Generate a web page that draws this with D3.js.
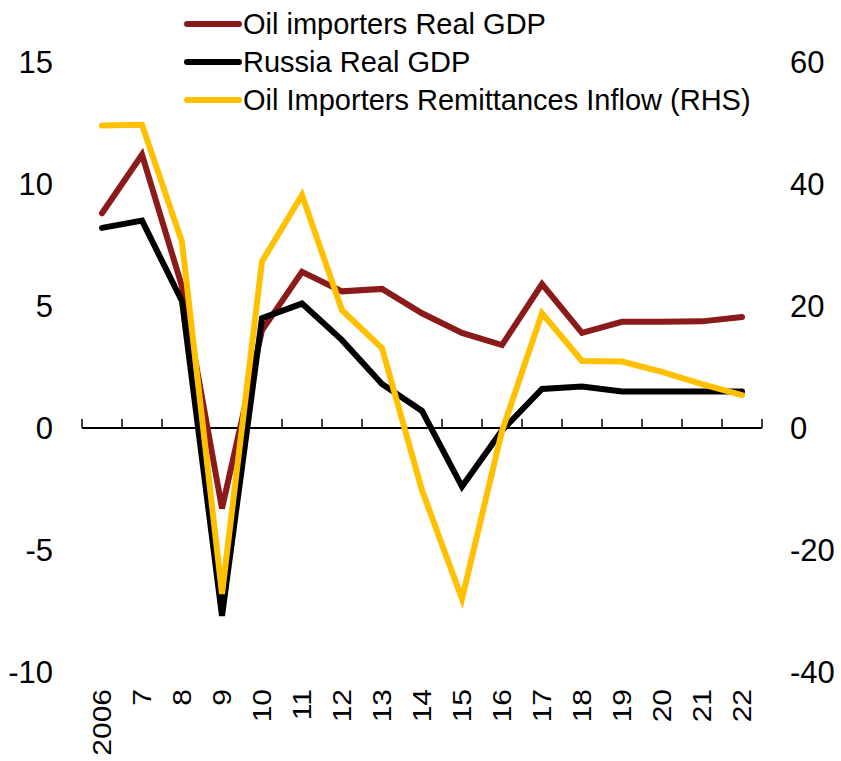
<!DOCTYPE html>
<html><head><meta charset="utf-8">
<script src="https://cdn.jsdelivr.net/npm/d3@7"></script>
<style>body{margin:0;background:#fff}svg{display:block}text{font-family:"Liberation Sans",Arial,sans-serif;fill:#000}</style>
</head><body>
<script>
const years = ["2006","7","8","9","10","11","12","13","14","15","16","17","18","19","20","21","22"];
const oilImportersGDP = [8.8,11.2,5.8,-3.3,4.0,6.4,5.6,5.7,4.7,3.9,3.4,5.9,3.9,4.35,4.35,4.37,4.55];
const russiaGDP = [8.2,8.5,5.2,-7.7,4.5,5.1,3.6,1.8,0.7,-2.4,-0.1,1.6,1.7,1.5,1.5,1.5,1.5];
const remittances = [49.6,49.7,30.5,-27.2,27.3,38.2,19.3,13.1,-10.2,-28.0,-0.5,18.8,11.0,10.9,9.2,7.2,5.4];
const leftTicks = [-10,-5,0,5,10,15];
const rightTicks = [-40,-20,0,20,40,60];
const seriesNames = ["Oil importers Real GDP","Russia Real GDP","Oil Importers Remittances Inflow (RHS)"];
const colors = ["#8B1A1A","#000000","#FFC000"];

const W=841,H=761;
const svg=d3.select("body").append("svg").attr("width",W).attr("height",H);
const x=d3.scaleBand().domain(years).range([82,762]);
const yL=d3.scaleLinear().domain([-10,15]).range([672,62]);
const yR=d3.scaleLinear().domain([-40,60]).range([672,62]);

// tick labels
svg.append("g").selectAll("text").data(leftTicks).join("text")
  .attr("x",53).attr("y",d=>yL(d)).attr("dy","0.35em").attr("text-anchor","end")
  .style("font-size","31px").text(d=>d);
svg.append("g").selectAll("text").data(rightTicks).join("text")
  .attr("x",790).attr("y",d=>yR(d)).attr("dy","0.35em").attr("text-anchor","start")
  .style("font-size","31px").text(d=>d);

// x axis
const xAxis=svg.append("g");
xAxis.append("line").attr("x1",82).attr("x2",762).attr("y1",yL(0)).attr("y2",yL(0)).attr("stroke","#000").attr("stroke-width",2);
const bounds=years.map(d=>x(d)).concat([x.range()[1]]);
xAxis.selectAll("line.t").data(bounds).join("line").attr("class","t")
  .attr("x1",d=>d).attr("x2",d=>d).attr("y1",yL(0)-9).attr("y2",yL(0)).attr("stroke","#000").attr("stroke-width",1.5);
svg.append("g").selectAll("text").data(years).join("text")
  .attr("transform",d=>`translate(${x(d)+x.bandwidth()/2},689) rotate(-90) scale(1,0.84)`)
  .attr("dy","0.35em").attr("text-anchor","end").style("font-size","30px").text(d=>d);

const cx=d=>x(d)+x.bandwidth()/2;
const lineL=d3.line().x((d,i)=>cx(years[i])).y(d=>yL(d));
const lineR=d3.line().x((d,i)=>cx(years[i])).y(d=>yR(d));
const paths=[[oilImportersGDP,lineL,0],[russiaGDP,lineL,1],[remittances,lineR,2]];
paths.forEach(([data,gen,i])=>{
  svg.append("path").attr("d",gen(data)).attr("fill","none").attr("stroke",colors[i])
    .attr("stroke-width",6).attr("stroke-linejoin","miter").attr("stroke-linecap","round");
});

// legend
const lg=svg.append("g");
seriesNames.forEach((n,i)=>{
  const yy=24+i*38;
  lg.append("line").attr("x1",187).attr("x2",239).attr("y1",yy).attr("y2",yy)
    .attr("stroke",colors[i]).attr("stroke-width",6).attr("stroke-linecap","round");
  lg.append("text").attr("x",243).attr("y",yy).attr("dy","0.35em").style("font-size","29px").text(n);
});
</script>
</body></html>
